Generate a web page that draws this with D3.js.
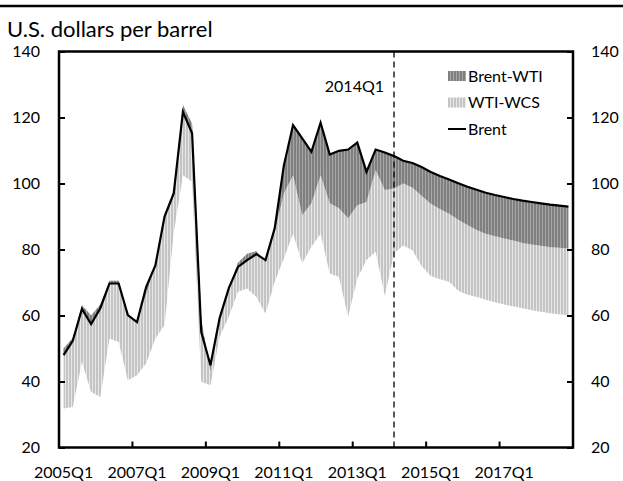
<!DOCTYPE html>
<html>
<head>
<meta charset="utf-8">
<script src="https://cdn.jsdelivr.net/npm/d3@7"></script>
<style>
  body { margin: 0; background: #fff; }
  text { font-family: Lato, "Open Sans", sans-serif; fill: #000; }
</style>
</head>
<body>
<div id="chart"></div>
<script>
const years = [2005, 2006, 2007, 2008, 2009, 2010, 2011, 2012, 2013, 2014, 2015, 2016, 2017, 2018];
const quarters = years.flatMap(yr => ["Q1", "Q2", "Q3", "Q4"].map(q => yr + q));
const tickLabels = ["2005Q1", "2007Q1", "2009Q1", "2011Q1", "2013Q1", "2015Q1", "2017Q1"];
const yTicks = [20, 40, 60, 80, 100, 120, 140];

// one value per quarter 2005Q1..2018Q4
const brent = [48.0, 52.3, 62.0, 57.4, 62.2, 69.7, 69.7, 60.1, 58.0, 68.7, 75.2, 90.0,
    97.0, 121.7, 115.2, 55.0, 44.9, 59.2, 68.3, 74.7, 76.8, 78.6, 76.8, 86.4,
    105.5, 117.7, 113.7, 109.6, 118.4, 108.8, 109.9, 110.3, 112.4, 103.5, 110.3, 109.4,
    108.3, 106.9, 106.2, 105.0, 103.5, 102.3, 101.2, 100.1, 99.0, 98.1, 97.2, 96.5,
    95.9, 95.3, 94.8, 94.4, 94.0, 93.6, 93.3, 93.0];
const wti = [50.0, 53.2, 63.1, 60.0, 63.3, 70.5, 70.5, 60.0, 58.2, 66.5, 75.4, 90.7,
    97.9, 123.8, 118.1, 58.7, 43.1, 59.5, 68.2, 76.0, 78.7, 79.5, 76.1, 85.2,
    97.0, 102.5, 90.4, 94.0, 102.5, 94.0, 92.5, 89.5, 93.4, 94.4, 104.0, 98.0,
    98.5, 100.0, 98.8, 96.3, 93.9, 92.3, 90.8, 89.0, 87.4, 85.9, 84.8, 84.0,
    83.3, 82.7, 82.0, 81.5, 81.1, 80.7, 80.5, 80.3];
const wcs = [31.8, 32.3, 45.9, 36.8, 35.3, 53.0, 52.0, 40.4, 41.9, 45.5, 53.0, 57.1,
    85.0, 102.5, 100.5, 39.9, 38.9, 53.5, 59.6, 67.2, 68.2, 65.6, 60.6, 70.2,
    77.3, 84.8, 75.8, 80.8, 84.8, 72.7, 71.7, 59.6, 71.2, 76.8, 79.3, 66.0,
    78.9, 81.2, 79.8, 75.0, 72.0, 71.0, 70.2, 67.5, 66.3, 65.6, 64.8, 64.0,
    63.3, 62.8, 62.2, 61.6, 61.1, 60.7, 60.4, 60.1];
const markerQuarter = "2014Q1";
const legendItems = ["Brent-WTI", "WTI-WCS", "Brent"];

const width = 623;
const height = 481;
const plotLeft = 59, plotRight = 573, plotTop = 51.5, plotBottom = 447.5;

const data = quarters.map((q, i) => ({ q: q, brent: brent[i], wti: wti[i], wcs: wcs[i] }));

const svg = d3.select("#chart")
    .append("svg")
    .attr("width", width)
    .attr("height", height);

// vertical line fills like the Excel pattern
const defs = svg.append("defs");
const makePattern = (id, fg, bg) => {
    const p = defs.append("pattern")
        .attr("id", id)
        .attr("patternUnits", "userSpaceOnUse")
        .attr("width", 3)
        .attr("height", 10);
    p.append("rect").attr("width", 3).attr("height", 10).attr("fill", bg);
    p.append("rect").attr("width", 2).attr("height", 10).attr("fill", fg);
};
makePattern("darkStripes", "#7f7f7f", "#a8a8a8");
makePattern("lightStripes", "#c4c4c4", "#e8e8e8");

const x = d3.scaleBand().domain(quarters).range([plotLeft, plotRight]);
const cx = q => x(q) + x.bandwidth() / 2;
const y = d3.scaleLinear().domain([20, 140]).range([plotBottom, plotTop]);

svg.append("line")
    .attr("x1", 0).attr("x2", width)
    .attr("y1", 6).attr("y2", 6)
    .attr("stroke", "#000")
    .attr("stroke-width", 2.5);

svg.append("text")
    .attr("x", 7)
    .attr("y", 37)
    .attr("font-size", 22)
    .text("U.S. dollars per barrel");

const lightArea = d3.area()
    .x(d => cx(d.q))
    .y0(d => y(d.wcs))
    .y1(d => y(d.wti));
const darkArea = d3.area()
    .x(d => cx(d.q))
    .y0(d => y(d.wti))
    .y1(d => y(d.brent));

svg.append("path")
    .datum(data)
    .attr("d", lightArea)
    .attr("fill", "url(#lightStripes)");
svg.append("path")
    .datum(data)
    .attr("d", darkArea)
    .attr("fill", "url(#darkStripes)");

svg.append("path")
    .datum(data)
    .attr("d", d3.line().x(d => cx(d.q)).y(d => y(d.brent)))
    .attr("fill", "none")
    .attr("stroke", "#000")
    .attr("stroke-width", 2.2)
    .attr("stroke-linejoin", "miter");

// 2014Q1 marker
svg.append("line")
    .attr("x1", cx(markerQuarter)).attr("x2", cx(markerQuarter))
    .attr("y1", plotTop).attr("y2", plotBottom)
    .attr("stroke", "#000")
    .attr("stroke-width", 1.3)
    .attr("stroke-dasharray", "6,4");
svg.append("text")
    .attr("x", cx(markerQuarter) - 10)
    .attr("y", 92)
    .attr("text-anchor", "end")
    .attr("font-size", 16)
    .text(markerQuarter);

// axes
const yLeft = svg.append("g")
    .attr("transform", `translate(${plotLeft},0)`)
    .call(d3.axisLeft(y).tickValues(yTicks).tickSize(-6).tickPadding(19));
const yRight = svg.append("g")
    .attr("transform", `translate(${plotRight},0)`)
    .call(d3.axisRight(y).tickValues(yTicks).tickSize(-6).tickPadding(18));
const xAxis = svg.append("g")
    .attr("transform", `translate(0,${plotBottom})`)
    .call(d3.axisBottom(x).tickValues(tickLabels).tickSize(0).tickPadding(19));

[yLeft, yRight, xAxis].forEach(g => {
    g.select(".domain").remove();
    g.selectAll("line").attr("stroke", "#000").attr("stroke-width", 2);
    g.selectAll("text").attr("font-size", 16).attr("font-family", "Lato, sans-serif");
});

svg.append("g")
    .selectAll("line")
    .data(tickLabels.slice(1))
    .join("line")
    .attr("x1", d => x(d)).attr("x2", d => x(d))
    .attr("y1", plotBottom).attr("y2", plotBottom - 6)
    .attr("stroke", "#000")
    .attr("stroke-width", 2);

svg.append("rect")
    .attr("x", plotLeft).attr("y", plotTop)
    .attr("width", plotRight - plotLeft).attr("height", plotBottom - plotTop)
    .attr("fill", "none")
    .attr("stroke", "#000")
    .attr("stroke-width", 2.5);

// legend
const legend = svg.append("g").attr("transform", "translate(448,76)");
legendItems.forEach((name, i) => {
    const row = legend.append("g").attr("transform", `translate(0,${i * 26.5})`);
    if (i < 2) {
        row.append("rect")
            .attr("x", 0).attr("y", -5)
            .attr("width", 18).attr("height", 10)
            .attr("fill", i === 0 ? "url(#darkStripes)" : "url(#lightStripes)");
    } else {
        row.append("line")
            .attr("x1", 0).attr("x2", 18)
            .attr("y1", 0).attr("y2", 0)
            .attr("stroke", "#000")
            .attr("stroke-width", 2);
    }
    row.append("text")
        .attr("x", 20)
        .attr("y", 0)
        .attr("dy", "0.35em")
        .attr("font-size", 16)
        .text(name);
});
</script>
</body>
</html>
